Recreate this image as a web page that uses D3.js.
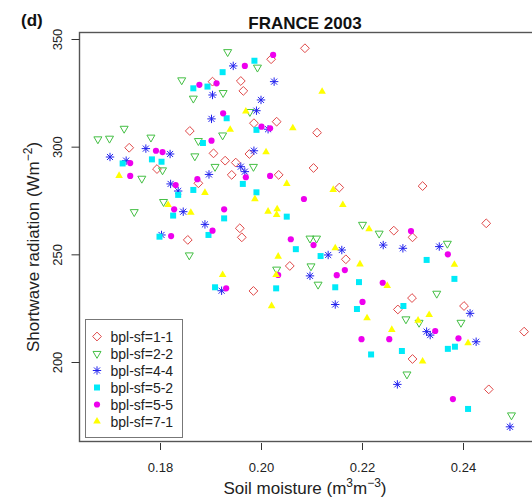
<!DOCTYPE html>
<html><head><meta charset="utf-8">
<script src="https://cdn.jsdelivr.net/npm/d3@7"></script>
<style>
body{margin:0;background:#fff}
svg{display:block;font-family:"Liberation Sans",Arial,Helvetica,sans-serif}
</style>
</head><body>
<svg id="chart" width="532" height="499"></svg>
<script>
// ---------------- data ----------------
const chartTitle = "FRANCE 2003";
const panelLabel = "(d)";
const seriesNames = ["bpl-sf=1-1","bpl-sf=2-2","bpl-sf=4-4","bpl-sf=5-2","bpl-sf=5-5","bpl-sf=7-1"];
const xTicks = [0.18, 0.20, 0.22, 0.24];
const yTicks = [200, 250, 300, 350];

const bpl11 = [[0.2087,345.7],[0.2020,340.6],[0.1859,307.3],[0.1739,299.5],[0.1794,289.6],[0.1960,330.5],
 [0.1904,330.2],[0.1965,325.9],[0.2031,311.6],[0.1986,310.9],[0.2111,306.5],[0.1906,296.9],[0.1977,296.6],
 [0.1929,293.5],[0.1950,292.6],[0.2104,290.1],[0.1942,286.9],[0.2035,286.9],[0.2155,281.0],[0.1958,262.1],
 [0.1962,257.9],[0.2168,247.7],[0.2057,244.6],[0.1985,233.0],[0.2320,281.7],[0.2446,264.4],[0.2263,261.0],
 [0.2300,257.9],[0.2299,229.7],[0.2402,226.0],[0.2271,224.4],[0.2521,214.1],[0.2300,201.4],[0.2451,187.3],
 [0.1876,283.0],[0.1855,256.7]];
const bpl22 = [[0.1843,331.0],[0.1866,322.5],[0.1729,308.5],[0.1677,303.6],[0.1700,303.9],[0.1782,304.4],
 [0.1876,302.8],[0.1869,295.7],[0.1805,289.2],[0.1934,344.1],[0.1993,336.9],[0.1925,325.1],[0.1978,316.3],
 [0.1924,305.4],[0.1909,290.8],[0.1985,290.8],[0.2201,263.9],[0.2097,257.5],[0.2110,257.5],[0.2031,243.1],
 [0.2099,244.6],[0.2113,236.1],[0.2234,259.8],[0.2369,255.1],[0.2348,231.9],[0.2287,220.0],[0.2313,218.4],
 [0.2396,218.4],[0.2289,194.4],[0.2496,175.4],[0.1764,285.3],[0.1807,274.5],[0.1749,269.8],[0.1858,249.7]];
const bpl44 = [[0.1701,295.2],[0.1772,299.1],[0.1820,296.6],[0.1733,293.5],[0.1945,337.5],[0.2026,330.2],
 [0.1904,324.0],[0.2000,321.7],[0.1991,316.7],[0.1902,312.9],[0.2014,308.1],[0.1986,298.1],[0.1960,290.7],
 [0.1897,287.1],[0.1968,288.4],[0.1889,263.9],[0.2160,252.0],[0.2133,249.7],[0.2097,240.0],[0.1922,233.1],
 [0.2147,226.7],[0.2242,254.3],[0.2281,252.8],[0.2353,253.6],[0.2414,222.6],[0.2328,214.1],[0.2335,212.5],
 [0.2426,209.4],[0.2270,189.6],[0.2493,169.9],[0.1821,282.7],[0.1836,279.4],[0.1846,269.8],[0.1803,259.0]];
const bpl52 = [[0.1866,327.1],[0.1894,327.9],[0.1885,301.7],[0.1726,292.2],[0.1784,294.1],[0.1803,293.0],
 [0.1987,339.9],[0.1924,334.6],[0.1932,313.2],[0.1991,307.8],[0.1964,282.7],[0.1991,278.8],[0.1927,266.7],
 [0.2051,267.5],[0.1896,259.0],[0.2069,252.4],[0.2118,249.2],[0.2194,237.1],[0.2147,234.7],[0.1909,234.7],
 [0.2030,234.2],[0.2190,224.6],[0.2328,247.4],[0.2383,238.6],[0.2282,226.0],[0.2370,206.1],[0.2384,207.1],
 [0.2218,203.5],[0.2279,205.1],[0.2410,178.2],[0.1836,277.6],[0.1866,279.9],[0.1826,268.0],[0.1799,258.2]];
const bpl55 = [[0.1878,328.7],[0.1792,298.1],[0.1805,297.5],[0.1741,292.4],[0.2024,342.6],[0.1968,337.5],
 [0.1912,329.4],[0.1925,315.5],[0.2001,309.3],[0.2018,308.5],[0.1902,302.8],[0.1970,285.8],[0.2018,286.4],
 [0.2085,275.7],[0.1927,270.9],[0.1904,261.0],[0.2059,257.0],[0.2104,254.3],[0.2166,242.7],[0.2150,240.3],
 [0.2034,240.4],[0.1931,234.2],[0.2201,227.9],[0.2297,260.8],[0.2370,250.0],[0.2241,236.8],[0.2345,214.4],
 [0.2199,210.6],[0.2254,210.6],[0.2391,211.0],[0.2380,182.8],[0.1741,286.4],[0.1831,282.2],[0.1874,284.9],
 [0.1828,270.9],[0.1822,258.5]];
const bpl71 = [[0.2121,325.5],[0.1970,316.3],[0.1939,307.8],[0.2063,308.5],[0.2010,297.4],[0.2051,282.7],
 [0.2143,279.9],[0.1988,275.6],[0.1889,278.5],[0.2162,272.9],[0.2014,269.8],[0.2032,270.9],[0.2031,268.3],
 [0.2147,252.8],[0.2034,248.9],[0.2030,240.4],[0.2196,245.3],[0.1924,240.4],[0.2021,225.9],[0.2214,261.6],
 [0.2383,245.1],[0.2250,235.3],[0.2210,220.3],[0.2333,221.8],[0.2311,219.2],[0.2259,214.9],[0.2410,208.7],
 [0.2320,200.2],[0.1719,286.4],[0.1816,272.9],[0.1861,269.3]];

const seriesData = [bpl11, bpl22, bpl44, bpl52, bpl55, bpl71];

// ---------------- styling / layout ----------------
const colors = ["#e04848","#44bf44","#2222ee","#00eaf8","#ee00ee","#ffff00"];
const box = {left:79.5, right:533, top:32.5, bottom:441.5};

const svg = d3.select("#chart");

const x = d3.scaleLinear().domain([0.18, 0.24]).range([160, 463]);
const y = d3.scaleLinear().domain([200, 350]).range([362, 39]);

// custom symbols (R pch shapes)
const pchDiamond = {draw(ctx, s){ const r = s; ctx.moveTo(0,-r); ctx.lineTo(r,0); ctx.lineTo(0,r); ctx.lineTo(-r,0); ctx.closePath(); }};
const pchTriDown = {draw(ctx, s){ const r = s; const h = r*0.866; ctx.moveTo(-r, -h*0.6); ctx.lineTo(r, -h*0.6); ctx.lineTo(0, h*1.4); ctx.closePath(); }};
const pchAster = {draw(ctx, s){ const r = s; const d = r*0.72;
  ctx.moveTo(-r,0); ctx.lineTo(r,0); ctx.moveTo(0,-r); ctx.lineTo(0,r);
  ctx.moveTo(-d,-d); ctx.lineTo(d,d); ctx.moveTo(-d,d); ctx.lineTo(d,-d); }};
const pchSquare = {draw(ctx, s){ ctx.rect(-s,-s,2*s,2*s); }};
const pchCircle = {draw(ctx, s){ ctx.moveTo(s,0); ctx.arc(0,0,s,0,2*Math.PI); }};
const pchTriUp = {draw(ctx, s){ const r = s; const h = r*0.866; ctx.moveTo(-r, h*0.6); ctx.lineTo(r, h*0.6); ctx.lineTo(0, -h*1.4); ctx.closePath(); }};

const shapes = [
  {type:pchDiamond, size:4.4, fill:"none", stroke:true},
  {type:pchTriDown, size:4.0, fill:"none", stroke:true},
  {type:pchAster, size:4.2, fill:"none", stroke:true},
  {type:pchSquare, size:3.0, fill:true, stroke:false},
  {type:pchCircle, size:3.1, fill:true, stroke:false},
  {type:pchTriUp, size:3.8, fill:true, stroke:false}
];

function styleSym(sel, i){
  const sh = shapes[i];
  sel.attr("d", d3.symbol().type(sh.type).size(sh.size))
     .attr("fill", sh.fill === true ? colors[i] : "none")
     .attr("stroke", sh.stroke ? colors[i] : "none")
     .attr("stroke-width", sh.stroke ? 1 : 0);
}

// points
seriesData.forEach((data, i) => {
  svg.append("g").selectAll("path").data(data).join("path")
    .attr("transform", d => `translate(${x(d[0])},${y(d[1])})`)
    .call(styleSym, i);
});

// plot box
svg.append("rect")
  .attr("x", box.left).attr("y", box.top)
  .attr("width", box.right - box.left).attr("height", box.bottom - box.top)
  .attr("fill", "none").attr("stroke", "#555").attr("stroke-width", 1.4);

// y axis
const gy = svg.append("g").attr("transform", `translate(${box.left},0)`)
  .call(d3.axisLeft(y).tickValues(yTicks).tickSize(8).tickFormat(d3.format("d")));
gy.select(".domain").remove();
gy.selectAll(".tick line").attr("stroke", "#333");
gy.selectAll(".tick text")
  .attr("x", 0).attr("dy", 0).attr("text-anchor", "middle")
  .attr("transform", "translate(-18,0) rotate(-90)")
  .attr("font-size", 13).attr("fill", "#222")
  .style("font-family", "Liberation Sans, Arial, sans-serif");

// x axis
const gx = svg.append("g").attr("transform", `translate(0,${box.bottom + 1.5})`)
  .call(d3.axisBottom(x).tickValues(xTicks).tickSize(7).tickFormat(d3.format(".2f")));
gx.select(".domain").remove();
gx.selectAll(".tick line").attr("stroke", "#333");
gx.selectAll(".tick text")
  .attr("y", 29).attr("dy", 0)
  .attr("font-size", 13).attr("fill", "#222")
  .style("font-family", "Liberation Sans, Arial, sans-serif");

// titles
svg.append("text").attr("x", 305).attr("y", 29).attr("text-anchor", "middle")
  .attr("font-size", 17).attr("font-weight", "bold").attr("fill", "#111").text(chartTitle);
svg.append("text").attr("x", 21).attr("y", 26).attr("text-anchor", "start")
  .attr("font-size", 17).attr("font-weight", "bold").attr("fill", "#111").text(panelLabel);

// x axis title
const xt = svg.append("text").attr("x", 305).attr("y", 494).attr("text-anchor", "middle")
  .attr("font-size", 17).attr("fill", "#222");
xt.append("tspan").text("Soil moisture (m");
xt.append("tspan").attr("dy", -7).attr("font-size", 12).text("3");
xt.append("tspan").attr("dy", 7).text("m");
xt.append("tspan").attr("dy", -7).attr("font-size", 12).text("\u22123");
xt.append("tspan").attr("dy", 7).text(")");

// y axis title
const yt = svg.append("text").attr("transform", `translate(39,247) rotate(-90)`)
  .attr("text-anchor", "middle").attr("font-size", 17).attr("fill", "#222");
yt.append("tspan").text("Shortwave radiation (Wm");
yt.append("tspan").attr("dy", -7).attr("font-size", 12).text("\u22122");
yt.append("tspan").attr("dy", 7).text(")");

// legend
const leg = {x:85.5, y:319.5, w:97, h:118, symX:97, txtX:110.5, row0:336.5, rowH:17};
svg.append("rect").attr("x", leg.x).attr("y", leg.y).attr("width", leg.w).attr("height", leg.h)
  .attr("fill", "#fff").attr("stroke", "#777").attr("stroke-width", 1);
const lg = svg.append("g").selectAll("g").data(seriesNames).join("g")
  .attr("transform", (d, i) => `translate(0,${leg.row0 + i*leg.rowH})`);
lg.append("path").attr("transform", `translate(${leg.symX},0)`).each(function(d, i){ d3.select(this).call(styleSym, i); });
lg.append("text").attr("x", leg.txtX).attr("y", 5).attr("font-size", 14).attr("fill", "#222").text(d => d);
</script>
</body></html>
